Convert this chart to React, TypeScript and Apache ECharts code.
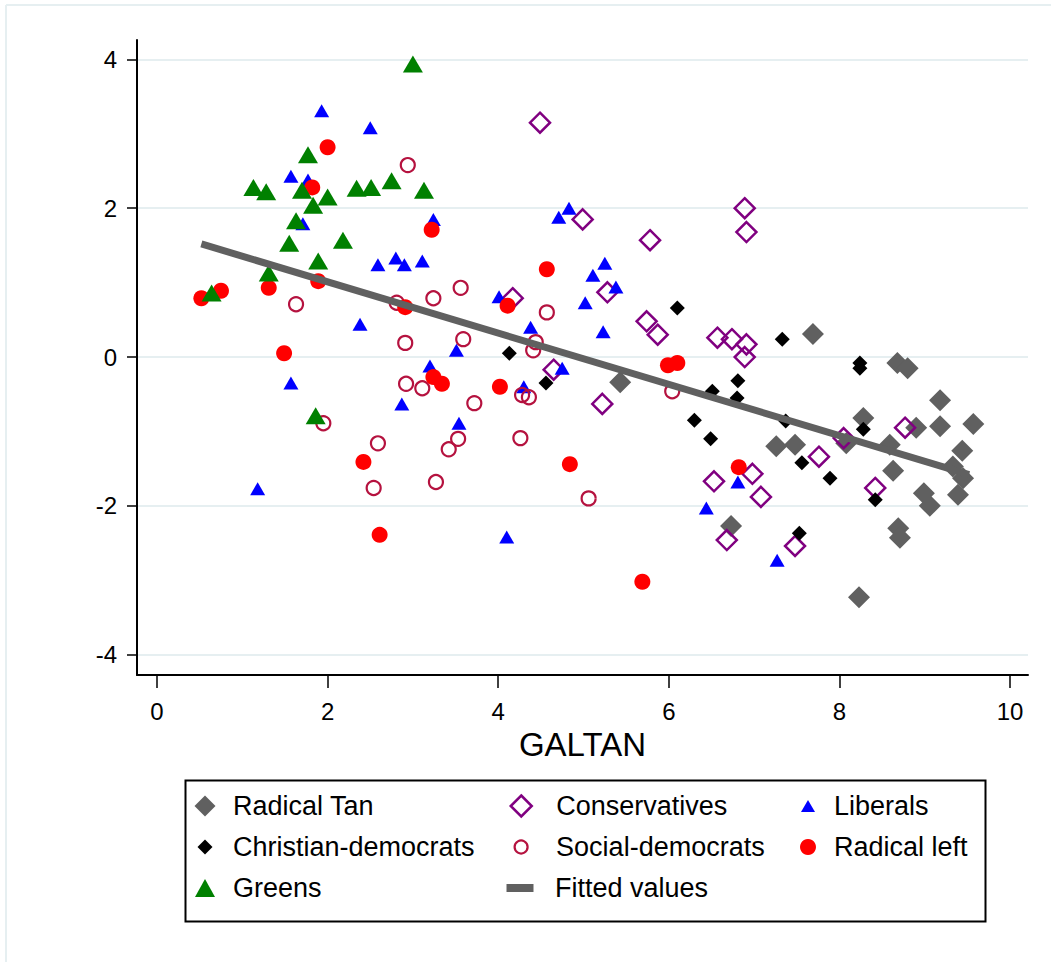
import React, { useEffect, useRef } from 'react';
import * as echarts from 'echarts';

const xTicks = [0, 2, 4, 6, 8, 10];
const yTicks = [-4, -2, 0, 2, 4];
const xTitle = 'GALTAN';

const radicalTan = [
  [7.69, 0.31], [8.68, -0.08], [8.8, -0.15], [9.18, -0.58], [8.28, -0.82], [8.9, -0.95],
  [9.18, -0.93], [9.57, -0.9], [7.26, -1.2], [7.48, -1.18], [8.59, -1.18], [9.44, -1.26],
  [9.33, -1.47], [9.45, -1.63], [8.63, -1.53], [8.99, -1.83], [9.06, -2.0], [9.39, -1.85],
  [8.69, -2.3], [8.71, -2.43], [6.73, -2.27], [8.23, -3.23], [5.43, -0.34], [8.08, -1.16],
];

const conservatives = [
  [4.49, 3.15], [4.99, 1.85], [5.78, 1.57], [5.28, 0.87], [4.17, 0.79], [5.74, 0.48],
  [5.87, 0.3], [4.65, -0.17], [5.22, -0.63], [6.89, 2.0], [6.91, 1.68], [6.57, 0.26],
  [6.74, 0.24], [6.91, 0.17], [6.89, 0.0], [8.05, -1.09], [8.77, -0.95], [7.76, -1.34],
  [6.53, -1.67], [6.98, -1.57], [7.08, -1.88], [8.42, -1.76], [6.68, -2.46], [7.48, -2.54],
];

const liberals = [
  [1.93, 3.31], [2.5, 3.08], [1.57, 2.43], [1.77, 2.38], [1.71, 1.79], [2.59, 1.24],
  [2.8, 1.33], [2.9, 1.24], [3.11, 1.29], [2.38, 0.44], [3.24, 1.85], [4.01, 0.81],
  [4.38, 0.4], [4.71, 1.88], [4.83, 2.0], [5.25, 1.26], [5.11, 1.1], [5.38, 0.94],
  [5.02, 0.73], [5.23, 0.34], [3.51, 0.09], [3.2, -0.12], [4.75, -0.15], [4.3, -0.4],
  [2.87, -0.63], [3.54, -0.89], [4.1, -2.42], [1.57, -0.35], [1.18, -1.77], [6.44, -2.03],
  [6.81, -1.68], [7.27, -2.73],
];

const christianDemocrats = [
  [6.1, 0.66], [4.13, 0.05], [4.56, -0.35], [6.3, -0.85], [7.33, 0.24], [8.24, -0.08],
  [8.24, -0.15], [6.51, -0.46], [6.81, -0.32], [6.8, -0.55], [7.37, -0.86], [6.49, -1.1],
  [8.28, -0.97], [7.56, -1.42], [7.89, -1.63], [8.42, -1.92], [7.53, -2.37],
];

const socialDemocrats = [
  [2.94, 2.58], [1.63, 0.71], [2.81, 0.73], [2.91, 0.19], [3.24, 0.79], [3.56, 0.93],
  [4.57, 0.6], [3.59, 0.24], [4.44, 0.2], [4.41, 0.09], [2.92, -0.36], [3.11, -0.42],
  [3.72, -0.62], [4.28, -0.51], [4.36, -0.54], [3.53, -1.1], [3.42, -1.24], [4.26, -1.09],
  [3.27, -1.68], [5.06, -1.9], [6.04, -0.46], [1.95, -0.89], [2.59, -1.16], [2.54, -1.76],
];

const radicalLeft = [
  [2.0, 2.82], [1.82, 2.28], [3.22, 1.71], [0.52, 0.79], [0.75, 0.89], [1.31, 0.93],
  [1.89, 1.02], [2.91, 0.67], [1.49, 0.05], [2.42, -1.41], [2.61, -2.39], [3.24, -0.27],
  [3.34, -0.36], [4.02, -0.4], [4.84, -1.44], [5.69, -3.02], [5.99, -0.11], [6.1, -0.08],
  [4.57, 1.18], [4.11, 0.69], [6.82, -1.48],
];

const greens = [
  [0.64, 0.86], [1.13, 2.28], [1.28, 2.22], [1.31, 1.13], [1.55, 1.53], [1.63, 1.83],
  [1.7, 2.24], [1.77, 2.72], [1.83, 2.04], [1.89, 1.29], [1.86, -0.79], [2.0, 2.15],
  [2.18, 1.57], [2.34, 2.27], [2.51, 2.28], [2.75, 2.37], [3.13, 2.24], [3.0, 3.94],
];

const fittedValues = [
  [0.52, 1.52], [9.52, -1.58],
];

const FONT = '"Liberation Sans", Arial, Helvetica, sans-serif';

const C_TAN = '#606060';
const C_CONS = '#800080';
const C_LIB = '#0000ff';
const C_CD = '#000000';
const C_SD = '#b5123f';
const C_RL = '#ff0000';
const C_GR = '#008000';
const C_FIT = '#606060';

function legendItem(
  name: string,
  icon: string,
  w: number,
  h: number,
  cx: number,
  cy: number,
  textX: number,
  itemStyle: any
) {
  const left = cx - w / 2;
  const pad = textX - left - w - 5;
  return {
    show: true,
    selectedMode: false,
    orient: 'horizontal',
    left,
    top: cy - 16,
    padding: 0,
    itemGap: 0,
    itemWidth: w,
    itemHeight: h,
    symbolKeepAspect: false,
    textStyle: {
      fontSize: 27,
      color: '#000',
      fontFamily: FONT,
      lineHeight: 32,
      padding: [0, 0, 0, pad],
    },
    data: [{ name, icon, itemStyle }],
  };
}

export default function App() {
  const ref = useRef<HTMLDivElement>(null);

  useEffect(() => {
    document.body.style.margin = '0';
    const chart = echarts.init(ref.current!, null, { renderer: 'svg' });

    const r1 = 806, r2 = 847, r3 = 888;
    const c1 = 205, c2 = 520, c3 = 808;
    const t1 = 233, t2 = 555, t3 = 834;

    const option: any = {
      animation: false,
      backgroundColor: '#ffffff',
      grid: { left: 137, right: 23, top: 40, bottom: 287, containLabel: false },
      xAxis: {
        type: 'value',
        min: -0.2345,
        max: 10.211,
        axisLine: { show: true, onZero: false, lineStyle: { color: '#000', width: 2 } },
        axisTick: { show: true, length: 13, customValues: xTicks, lineStyle: { color: '#000', width: 1.5 } },
        axisLabel: { show: true, customValues: xTicks, fontSize: 24, color: '#000', margin: 24, fontFamily: FONT },
        splitLine: { show: false },
        name: xTitle,
        nameLocation: 'middle',
        nameGap: 51,
        nameTextStyle: { fontSize: 33, color: '#000', fontFamily: FONT },
      },
      yAxis: {
        type: 'value',
        min: -4.274,
        max: 4.261,
        axisLine: { show: true, onZero: false, lineStyle: { color: '#000', width: 2 } },
        axisTick: { show: true, length: 10, customValues: yTicks, lineStyle: { color: '#000', width: 1.5 } },
        axisLabel: { show: true, customValues: yTicks, fontSize: 24, color: '#000', margin: 20, fontFamily: FONT },
        splitLine: { show: true, lineStyle: { color: '#e6eff1', width: 2 } },
      },
      legend: [
        legendItem('Radical Tan', 'diamond', 21, 21, c1, r1, t1, { color: C_TAN }),
        legendItem('Christian-democrats', 'diamond', 15, 15, c1, r2, t1, { color: C_CD }),
        legendItem('Greens', 'triangle', 20, 18, c1, r3, t1, { color: C_GR }),
        legendItem('Conservatives', 'diamond', 21, 21, c2, r1, t2, { color: 'rgba(0,0,0,0)', borderColor: C_CONS, borderWidth: 2.5 }),
        legendItem('Social-democrats', 'circle', 13, 13, c2, r2, t2, { color: 'rgba(0,0,0,0)', borderColor: C_SD, borderWidth: 2.2 }),
        legendItem('Fitted values', 'rect', 27, 8, c2, r3, t2, { color: C_FIT }),
        legendItem('Liberals', 'triangle', 14, 12, c3, r1, t3, { color: C_LIB }),
        legendItem('Radical left', 'circle', 16, 16, c3, r2, t3, { color: C_RL }),
      ],
      graphic: [
        {
          type: 'rect',
          left: 183,
          top: 778,
          shape: { width: 800, height: 141 },
          style: { fill: 'none', stroke: '#000', lineWidth: 2 },
          silent: true,
        },
        {
          type: 'line',
          shape: { x1: 6, y1: 5, x2: 6, y2: 962 },
          style: { stroke: '#e6eff1', lineWidth: 2 },
          silent: true,
        },
        {
          type: 'line',
          shape: { x1: 6, y1: 5, x2: 1051, y2: 5 },
          style: { stroke: '#e6eff1', lineWidth: 2 },
          silent: true,
        },
      ],
      series: [
        {
          name: 'Radical Tan',
          type: 'scatter',
          data: radicalTan,
          symbol: 'diamond',
          symbolSize: 22,
          itemStyle: { color: C_TAN, opacity: 1 },
        },
        {
          name: 'Conservatives',
          type: 'scatter',
          data: conservatives,
          symbol: 'diamond',
          symbolSize: 20,
          itemStyle: { color: 'rgba(0,0,0,0)', borderColor: C_CONS, borderWidth: 2.5, opacity: 1 },
        },
        {
          name: 'Liberals',
          type: 'scatter',
          data: liberals,
          symbol: 'triangle',
          symbolSize: [15, 13],
          itemStyle: { color: C_LIB, opacity: 1 },
        },
        {
          name: 'Christian-democrats',
          type: 'scatter',
          data: christianDemocrats,
          symbol: 'diamond',
          symbolSize: 15,
          itemStyle: { color: C_CD, opacity: 1 },
        },
        {
          name: 'Social-democrats',
          type: 'scatter',
          data: socialDemocrats,
          symbol: 'circle',
          symbolSize: 14,
          itemStyle: { color: 'rgba(0,0,0,0)', borderColor: C_SD, borderWidth: 2.2, opacity: 1 },
        },
        {
          name: 'Radical left',
          type: 'scatter',
          data: radicalLeft,
          symbol: 'circle',
          symbolSize: 16,
          itemStyle: { color: C_RL, opacity: 1 },
        },
        {
          name: 'Greens',
          type: 'scatter',
          data: greens,
          symbol: 'triangle',
          symbolSize: [20, 17],
          itemStyle: { color: C_GR, opacity: 1 },
        },
        {
          name: 'Fitted values',
          type: 'line',
          data: fittedValues,
          showSymbol: false,
          symbol: 'none',
          lineStyle: { color: C_FIT, width: 7 },
          itemStyle: { color: C_FIT },
        },
      ],
    };

    chart.setOption(option);
    return () => chart.dispose();
  }, []);

  return <div ref={ref} style={{ width: 1051, height: 962 }} />;
}
